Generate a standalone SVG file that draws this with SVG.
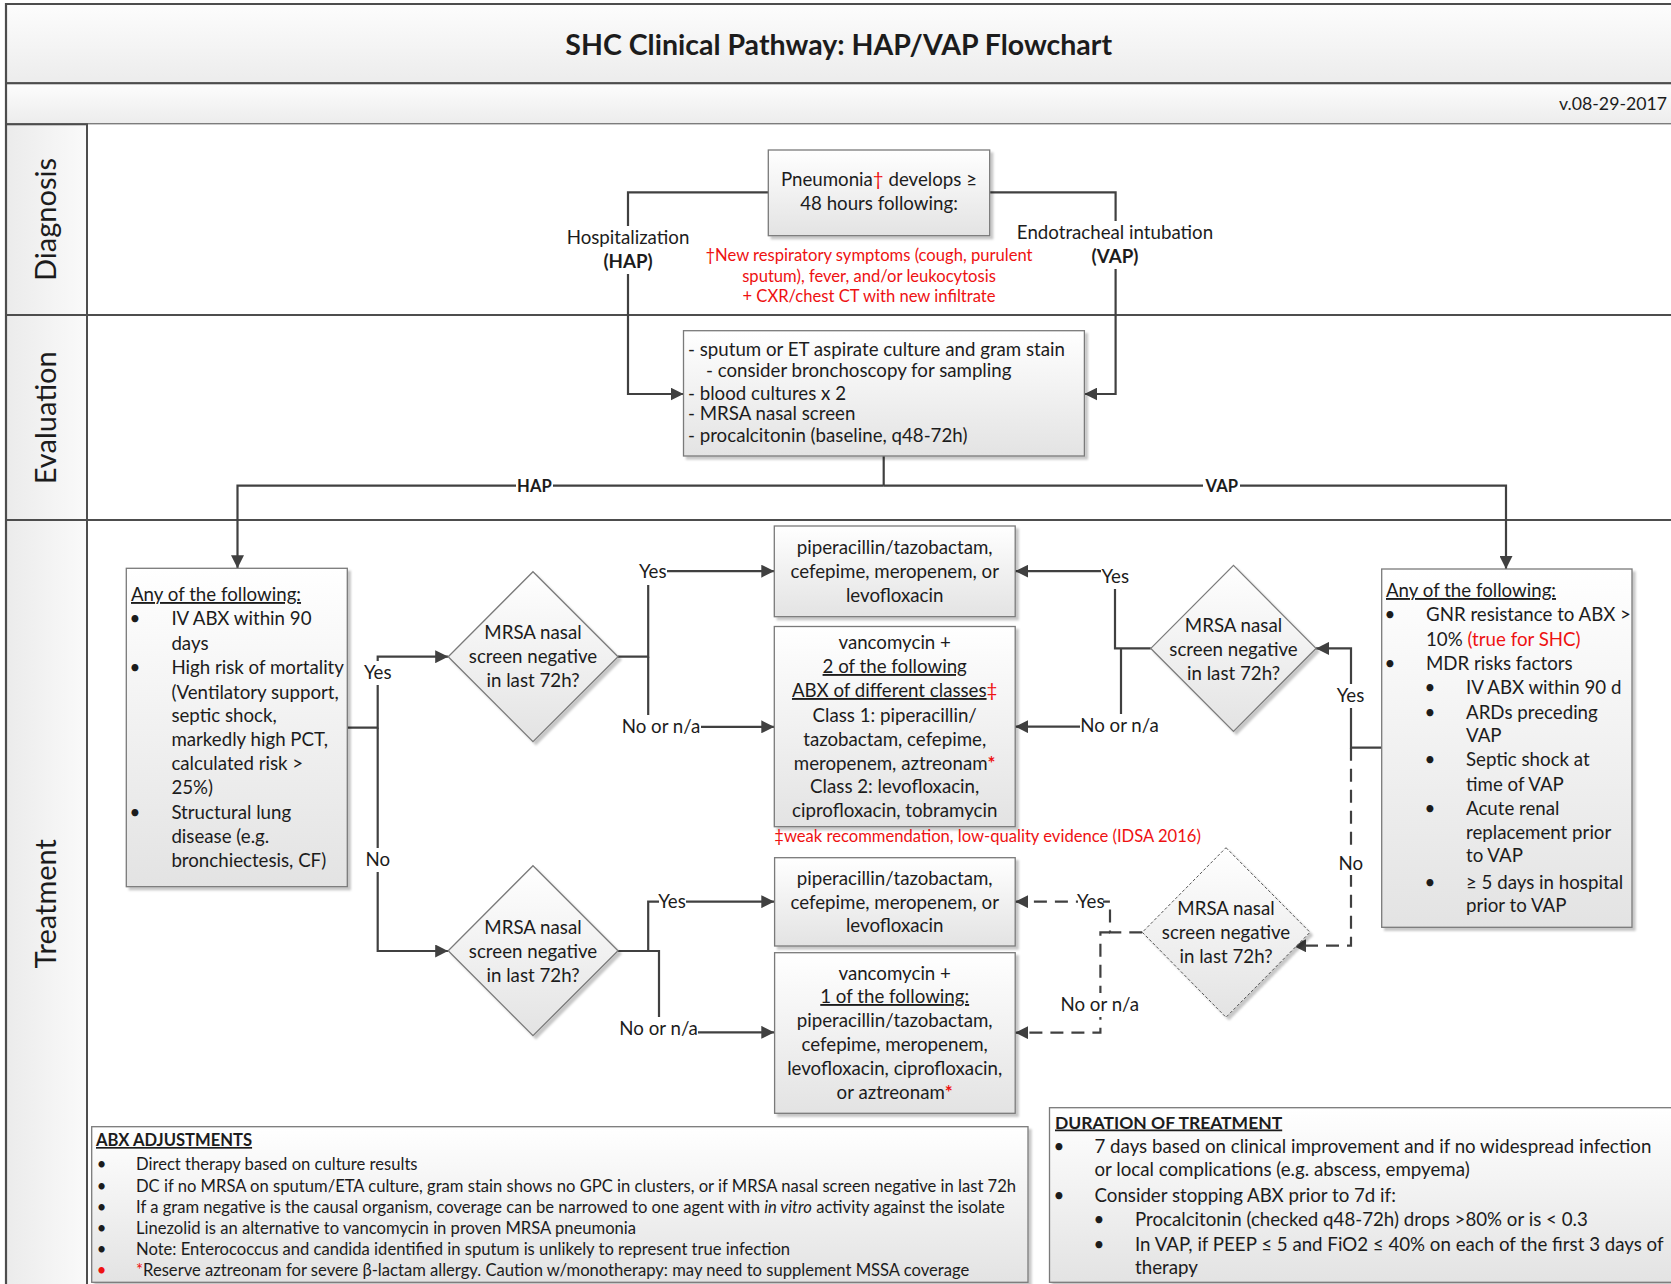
<svg xmlns="http://www.w3.org/2000/svg" width="1671" height="1284" viewBox="0 0 1671 1284">
<style>
text{font-family:Lato,"Liberation Sans",sans-serif;fill:#1c1c1c}
.t{font-size:18.7px}
.c{text-anchor:middle}
.s{font-size:16.6px}
.n{font-size:16.6px}
.r{fill:#ee1111}
.b{font-weight:bold}
.u{text-decoration:underline}
.lane{font-size:29px;text-anchor:middle}
.box{fill:url(#gBox);stroke:#7a7a7a;stroke-width:1.3;filter:url(#sh)}
.dbox{fill:url(#gBox);stroke:#555;stroke-width:1;stroke-dasharray:3 2;filter:url(#sh)}
.band{fill:url(#gBand);stroke:#4d4d4d;stroke-width:2}
.lh{fill:url(#gLane);stroke:#4d4d4d;stroke-width:2}
.ln{fill:none;stroke:#404040;stroke-width:2.2}
.arr{marker-end:url(#ah)}
.dash{stroke-dasharray:13 8}
.bg{fill:#ffffff}
.frame{stroke:#4d4d4d;stroke-width:2.2;fill:none}
</style>
<defs>
<linearGradient id="gBox" x1="0" y1="0" x2="0" y2="1"><stop offset="0" stop-color="#ffffff"/><stop offset="1" stop-color="#e3e3e3"/></linearGradient>
<linearGradient id="gBand" x1="0" y1="0" x2="0" y2="1"><stop offset="0" stop-color="#fdfdfd"/><stop offset="1" stop-color="#ececec"/></linearGradient>
<linearGradient id="gLane" x1="0" y1="0" x2="1" y2="0"><stop offset="0" stop-color="#ebebeb"/><stop offset="1" stop-color="#fafafa"/></linearGradient>
<filter id="sh" x="-5%" y="-5%" width="115%" height="115%"><feDropShadow dx="3" dy="3" stdDeviation="1.2" flood-color="#000" flood-opacity="0.22"/></filter>
<marker id="ah" viewBox="0 0 12 12" refX="12" refY="6" markerWidth="13" markerHeight="13" markerUnits="userSpaceOnUse" orient="auto"><path d="M0,0 L12,6 L0,12 Z" fill="#404040"/></marker>
</defs>

<g id="frame">
<rect x="0" y="0" width="1671" height="1284" fill="#ffffff"/>
<rect class="band" x="6" y="4" width="1680" height="79.3"/>
<rect class="band" x="6" y="83.3" width="1680" height="41"/>
<rect x="87" y="124.3" width="1600" height="1170" fill="#ffffff"/>
<rect class="lh" x="6" y="124.3" width="81" height="190.7"/>
<rect class="lh" x="6" y="315" width="81" height="205"/>
<rect class="lh" x="6" y="520" width="81" height="780"/>
<line class="frame" x1="87" y1="315" x2="1680" y2="315"/>
<line class="frame" x1="87" y1="520" x2="1680" y2="520"/>
<line class="frame" x1="6" y1="3" x2="6" y2="1290"/>
<text class="b c" x="838.7" y="54.5" style="font-size:28.5px">SHC Clinical Pathway: HAP/VAP Flowchart</text>
<text x="1667" y="110" style="font-size:17.7px;text-anchor:end">v.08-29-2017</text>
<text class="lane" x="45.8" y="229.5" transform="rotate(-90 45.8 219.5)">Diagnosis</text>
<text class="lane" x="45.8" y="427.8" transform="rotate(-90 45.8 417.8)">Evaluation</text>
<text class="lane" x="45.8" y="913.7" transform="rotate(-90 45.8 903.7)">Treatment</text>
</g>

<g id="connectors">
<path class="ln arr" d="M768.3,192.3 H628 V394 H683.5"/>
<path class="ln arr" d="M989.7,192.3 H1115.6 V394 H1084.4"/>
<path class="ln" d="M883.7,456 V485.7"/>
<path class="ln arr" d="M883.7,485.7 H237.5 V568.3"/>
<path class="ln arr" d="M883.7,485.7 H1506 V569"/>
<path class="ln arr" d="M347.3,727.7 H377.7 V656.7 H448.2"/>
<path class="ln arr" d="M377.7,727.7 V951 H448.2"/>
<path class="ln arr" d="M618,656.7 H648.2 V571.2 H774.3"/>
<path class="ln arr" d="M648.2,656.7 V726.8 H774.3"/>
<path class="ln arr" d="M618,951 H648.2 V901.7 H774.3"/>
<path class="ln arr" d="M618,951 H659 V1032.3 H774.3"/>
<path class="ln arr" d="M1381.7,747.7 H1351 V648.4 H1316"/>
<path class="ln arr" d="M1150.8,648.3 H1115 V571.2 H1015.2"/>
<path class="ln arr" d="M1121,648.3 V726.7 H1015.2"/>
<path class="ln arr dash" d="M1351,747.7 V945.7 H1293"/>
<path class="ln arr dash" d="M1142.3,932.3 H1110 V901.7 H1015.2"/>
<path class="ln arr dash" d="M1110,932.3 H1100.4 V1032.7 H1015.2"/>
<g id="labels">
<rect class="bg" x="612" y="226" width="32" height="48"/>
<text class="t c" x="628" y="244">Hospitalization</text>
<text class="t c b" x="628" y="268">(HAP)</text>
<rect class="bg" x="1100" y="221" width="32" height="48"/>
<text class="t c" x="1115" y="239">Endotracheal intubation</text>
<text class="t c b" x="1115" y="263">(VAP)</text>
<rect class="bg" x="516" y="476" width="37" height="20"/>
<text class="n c b" x="534.4" y="492">HAP</text>
<rect class="bg" x="1203" y="476" width="37" height="20"/>
<text class="n c b" x="1221.8" y="492">VAP</text>
<rect class="bg" x="364" y="661" width="28" height="24"/>
<text class="t c" x="377.7" y="678.5">Yes</text>
<rect class="bg" x="364" y="848" width="28" height="24"/>
<text class="t c" x="377.7" y="865.5">No</text>
<rect class="bg" x="638" y="560" width="29" height="25"/>
<text class="t c" x="652.7" y="577.5">Yes</text>
<rect class="bg" x="621" y="715" width="80" height="24"/>
<text class="t c" x="661" y="733">No or n/a</text>
<rect class="bg" x="659" y="891" width="27" height="21"/>
<text class="t c" x="672" y="908">Yes</text>
<rect class="bg" x="620" y="1017" width="78" height="24"/>
<text class="t c" x="658.6" y="1035">No or n/a</text>
<rect class="bg" x="1101" y="564" width="29" height="25"/>
<text class="t c" x="1115.3" y="582.7">Yes</text>
<rect class="bg" x="1080" y="714" width="79" height="24"/>
<text class="t c" x="1119.5" y="732">No or n/a</text>
<rect class="bg" x="1336" y="684" width="30" height="24"/>
<text class="t c" x="1350.5" y="702">Yes</text>
<rect class="bg" x="1338" y="851" width="26" height="24"/>
<text class="t c" x="1350.7" y="869.5">No</text>
<rect class="bg" x="1078" y="890" width="25" height="22"/>
<text class="t c" x="1090.7" y="907.7">Yes</text>
<rect class="bg" x="1061" y="993" width="78" height="24"/>
<text class="t c" x="1099.8" y="1011">No or n/a</text>
</g>
</g>

<g id="n-pneumonia">
<rect class="box" x="768.3" y="150" width="221.4" height="85.7"/>
<text class="t c" x="879" y="186">Pneumonia<tspan class="r">†</tspan> develops ≥</text>
<text class="t c" x="879" y="209.5">48 hours following:</text>
</g>
<g id="n-criteria-note">
<text class="n c r" x="869" y="260.5">†New respiratory symptoms (cough, purulent</text>
<text class="n c r" x="869" y="282">sputum), fever, and/or leukocytosis</text>
<text class="n c r" x="869" y="302">+ CXR/chest CT with new infiltrate</text>
</g>

<g id="n-eval">
<rect class="box" x="683.5" y="330.7" width="400.9" height="125.3"/>
<text class="t" x="688" y="355.5">- sputum or ET aspirate culture and gram stain</text>
<text class="t" x="706" y="377">- consider bronchoscopy for sampling</text>
<text class="t" x="688" y="399.5">- blood cultures x 2</text>
<text class="t" x="688" y="420">- MRSA nasal screen</text>
<text class="t" x="688" y="442">- procalcitonin (baseline, q48-72h)</text>
</g>

<g id="n-hap-risk">
<rect class="box" x="126.3" y="568.3" width="221" height="318.4"/>
<text class="t u" x="131" y="601">Any of the following:</text>
<text class="t c" x="135" y="624.5">•</text>
<text class="t" x="171.4" y="624.5">IV ABX within 90</text>
<text class="t" x="171.4" y="650">days</text>
<text class="t c" x="135" y="674">•</text>
<text class="t" x="171.4" y="674">High risk of mortality</text>
<text class="t" x="171.4" y="698.5">(Ventilatory support,</text>
<text class="t" x="171.4" y="722">septic shock,</text>
<text class="t" x="171.4" y="746">markedly high PCT,</text>
<text class="t" x="171.4" y="769.5">calculated risk &gt;</text>
<text class="t" x="171.4" y="793.5">25%)</text>
<text class="t c" x="135" y="819">•</text>
<text class="t" x="171.4" y="819">Structural lung</text>
<text class="t" x="171.4" y="843">disease (e.g.</text>
<text class="t" x="171.4" y="867">bronchiectesis, CF)</text>
</g>

<g id="n-hap-mrsa-yes">
<polygon class="box" points="533,571.7 618,656.7 533,741.7 448.2,656.7"/>
<text class="t c" x="533" y="638.5">MRSA nasal</text>
<text class="t c" x="533" y="663">screen negative</text>
<text class="t c" x="533" y="687">in last 72h?</text>
</g>

<g id="n-hap-mrsa-no">
<polygon class="box" points="533,865.7 618,950.7 533,1035.7 448.2,950.7"/>
<text class="t c" x="533" y="933.5">MRSA nasal</text>
<text class="t c" x="533" y="957.5">screen negative</text>
<text class="t c" x="533" y="981.5">in last 72h?</text>
</g>

<g id="n-pip-top">
<rect class="box" x="774.3" y="526" width="240.9" height="90.7"/>
<text class="t c" x="894.7" y="554">piperacillin/tazobactam,</text>
<text class="t c" x="894.7" y="577.5">cefepime, meropenem, or</text>
<text class="t c" x="894.7" y="601.5">levofloxacin</text>
</g>

<g id="n-vanc-two">
<rect class="box" x="774.3" y="626.5" width="240.9" height="200.2"/>
<text class="t c" x="894.7" y="649">vancomycin +</text>
<text class="t c u" x="894.7" y="673">2 of the following</text>
<text class="t c" x="894.7" y="697"><tspan class="u">ABX of different classes</tspan><tspan class="r">‡</tspan></text>
<text class="t c" x="894.7" y="721.5">Class 1: piperacillin/</text>
<text class="t c" x="894.7" y="745.5">tazobactam, cefepime,</text>
<text class="t c" x="894.7" y="769.5">meropenem, aztreonam<tspan class="r b">*</tspan></text>
<text class="t c" x="894.7" y="793">Class 2: levofloxacin,</text>
<text class="t c" x="894.7" y="817">ciprofloxacin, tobramycin</text>
</g>
<g id="n-footnote">
<text class="n r" x="774.3" y="842">‡weak recommendation, low-quality evidence (IDSA 2016)</text>
</g>

<g id="n-pip-bottom">
<rect class="box" x="774.6" y="857.7" width="240.6" height="88.3"/>
<text class="t c" x="894.7" y="884.5">piperacillin/tazobactam,</text>
<text class="t c" x="894.7" y="908.5">cefepime, meropenem, or</text>
<text class="t c" x="894.7" y="932">levofloxacin</text>
</g>

<g id="n-vanc-one">
<rect class="box" x="774.6" y="952.7" width="240.6" height="160.6"/>
<text class="t c" x="894.7" y="979.5">vancomycin +</text>
<text class="t c u" x="894.7" y="1003">1 of the following:</text>
<text class="t c" x="894.7" y="1027">piperacillin/tazobactam,</text>
<text class="t c" x="894.7" y="1051">cefepime, meropenem,</text>
<text class="t c" x="894.7" y="1075">levofloxacin, ciprofloxacin,</text>
<text class="t c" x="894.7" y="1099">or aztreonam<tspan class="r b">*</tspan></text>
</g>

<g id="n-vap-mrsa-yes">
<polygon class="box" points="1233.5,565.4 1316,648.4 1233.5,731.4 1150.8,648.4"/>
<text class="t c" x="1233.5" y="632">MRSA nasal</text>
<text class="t c" x="1233.5" y="655.5">screen negative</text>
<text class="t c" x="1233.5" y="679.5">in last 72h?</text>
</g>

<g id="n-vap-mrsa-no">
<polygon class="dbox" points="1226,847.7 1310,932.3 1226,1017.3 1142.3,932.3"/>
<text class="t c" x="1226" y="914.5">MRSA nasal</text>
<text class="t c" x="1226" y="938.5">screen negative</text>
<text class="t c" x="1226" y="963">in last 72h?</text>
</g>

<g id="n-vap-risk">
<rect class="box" x="1381.7" y="569" width="250.3" height="358.3"/>
<text class="t u" x="1386" y="597">Any of the following:</text>
<text class="t c" x="1390" y="621">•</text>
<text class="t" x="1426" y="621">GNR resistance to ABX &gt;</text>
<text class="t" x="1426" y="645.5">10% <tspan class="r">(true for SHC)</tspan></text>
<text class="t c" x="1390" y="669.5">•</text>
<text class="t" x="1426" y="669.5">MDR risks factors</text>
<text class="t c" x="1430" y="693.5">•</text>
<text class="t" x="1466" y="693.5">IV ABX within 90 d</text>
<text class="t c" x="1430" y="718.5">•</text>
<text class="t" x="1466" y="718.5">ARDs preceding</text>
<text class="t" x="1466" y="742">VAP</text>
<text class="t c" x="1430" y="766">•</text>
<text class="t" x="1466" y="766">Septic shock at</text>
<text class="t" x="1466" y="790.5">time of VAP</text>
<text class="t c" x="1430" y="814.5">•</text>
<text class="t" x="1466" y="814.5">Acute renal</text>
<text class="t" x="1466" y="839">replacement prior</text>
<text class="t" x="1466" y="862">to VAP</text>
<text class="t c" x="1430" y="888.5">•</text>
<text class="t" x="1466" y="888.5">≥ 5 days in hospital</text>
<text class="t" x="1466" y="912">prior to VAP</text>
</g>

<g id="n-abx">
<rect class="box" x="91.7" y="1126.7" width="936.3" height="155.6"/>
<text class="s b u" x="96" y="1146">ABX ADJUSTMENTS</text>
<text class="s c" x="101.5" y="1170">•</text>
<text class="s" x="136" y="1170">Direct therapy based on culture results</text>
<text class="s c" x="101.5" y="1191.5">•</text>
<text class="s" x="136" y="1191.5">DC if no MRSA on sputum/ETA culture, gram stain shows no GPC in clusters, or if MRSA nasal screen negative in last 72h</text>
<text class="s c" x="101.5" y="1213">•</text>
<text class="s" x="136" y="1213">If a gram negative is the causal organism, coverage can be narrowed to one agent with <tspan font-style="italic">in vitro</tspan> activity against the isolate</text>
<text class="s c" x="101.5" y="1234">•</text>
<text class="s" x="136" y="1234">Linezolid is an alternative to vancomycin in proven MRSA pneumonia</text>
<text class="s c" x="101.5" y="1254.5">•</text>
<text class="s" x="136" y="1254.5">Note: Enterococcus and candida identified in sputum is unlikely to represent true infection</text>
<text class="s c r" x="101.5" y="1276">•</text>
<text class="s" x="136" y="1276"><tspan class="r">*</tspan>Reserve aztreonam for severe β-lactam allergy. Caution w/monotherapy: may need to supplement MSSA coverage</text>
</g>

<g id="n-duration">
<rect class="box" x="1049.5" y="1107.7" width="640" height="174.6"/>
<text class="t b u" x="1055" y="1128.5" style="font-size:17.5px">DURATION OF TREATMENT</text>
<text class="t c" x="1059" y="1152.5">•</text>
<text class="t" x="1094.5" y="1152.5">7 days based on clinical improvement and if no widespread infection</text>
<text class="t" x="1094.5" y="1176">or local complications (e.g. abscess, empyema)</text>
<text class="t c" x="1059" y="1201.5">•</text>
<text class="t" x="1094.5" y="1201.5">Consider stopping ABX prior to 7d if:</text>
<text class="t c" x="1099" y="1226">•</text>
<text class="t" x="1135" y="1226">Procalcitonin (checked q48-72h) drops &gt;80% or is &lt; 0.3</text>
<text class="t c" x="1099" y="1250.5">•</text>
<text class="t" x="1135" y="1250.5">In VAP, if PEEP ≤ 5 and FiO2 ≤ 40% on each of the first 3 days of</text>
<text class="t" x="1135" y="1274">therapy</text>
</g>
</svg>
